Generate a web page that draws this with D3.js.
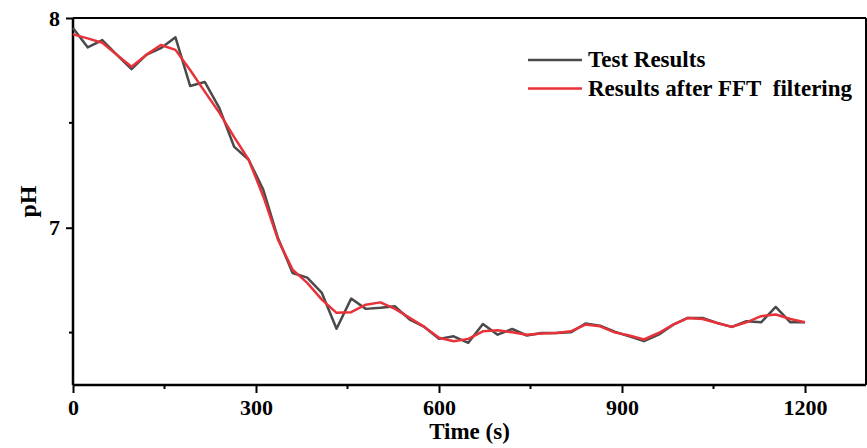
<!DOCTYPE html>
<html><head><meta charset="utf-8">
<script src="https://cdn.jsdelivr.net/npm/d3@7"></script>
<style>body{margin:0;background:#fff;} svg{display:block;}</style>
</head><body>
<svg id="c" width="867" height="448"></svg>
<script>
const times = d3.range(0, 1201, 24);
const testResults = [7.952,7.860,7.895,7.824,7.756,7.824,7.856,7.908,7.676,7.695,
  7.570,7.387,7.324,7.181,6.951,6.784,6.762,6.689,6.518,6.662,
  6.613,6.618,6.625,6.562,6.527,6.470,6.482,6.451,6.541,6.490,
  6.517,6.486,6.498,6.498,6.501,6.543,6.533,6.504,6.482,6.459,
  6.490,6.538,6.570,6.570,6.546,6.527,6.554,6.549,6.622,6.549,6.549];
const fftFiltered = [7.922,7.903,7.882,7.824,7.768,7.824,7.871,7.848,7.752,7.649,
  7.548,7.433,7.324,7.149,6.943,6.800,6.737,6.657,6.594,6.597,
  6.633,6.644,6.613,6.570,6.527,6.475,6.459,6.470,6.506,6.511,
  6.501,6.490,6.495,6.498,6.506,6.538,6.530,6.501,6.486,6.467,
  6.498,6.538,6.570,6.565,6.546,6.527,6.549,6.578,6.586,6.565,6.549];
const xTicks = [0,300,600,900,1200];
const xMinor = [150,450,750,1050];
const yTicks = [7,8];
const yMinor = [6.5,7.5];
const seriesNames = ["Test Results","Results after FFT\u00a0 filtering"];
const colors = ["#4a4a4a","#e8323a"];

const svg = d3.select("#c");
const L=73, R=866, T=18, B=385;
const x = d3.scaleLinear().domain([0,1300]).range([L,R]);
const y = d3.scaleLinear().domain([6.25,8]).range([B,T]);
const font = "'Liberation Serif','Times New Roman',serif";

// frame top/right
svg.append("line").attr("x1",L).attr("x2",R).attr("y1",T).attr("y2",T).attr("stroke","#000").attr("stroke-width",2);
svg.append("line").attr("x1",R).attr("x2",R).attr("y1",T).attr("y2",B).attr("stroke","#000").attr("stroke-width",2);

// x axis
const gx = svg.append("g").attr("transform",`translate(0,${B})`)
  .call(d3.axisBottom(x).tickValues(xTicks).tickSize(8).tickPadding(6).tickFormat(d3.format("d")));
gx.append("g").selectAll("line").data(xMinor).join("line")
  .attr("x1",d=>x(d)).attr("x2",d=>x(d)).attr("y1",0).attr("y2",4).attr("stroke","#000").attr("stroke-width",2);
// y axis
const gy = svg.append("g").attr("transform",`translate(${L},0)`)
  .call(d3.axisLeft(y).tickValues(yTicks).tickSize(7).tickPadding(6).tickFormat(d3.format("d")));
gy.append("g").selectAll("line").data(yMinor).join("line")
  .attr("y1",d=>y(d)).attr("y2",d=>y(d)).attr("x1",0).attr("x2",-4).attr("stroke","#000").attr("stroke-width",2);

[gx,gy].forEach(g=>{
  g.select(".domain").attr("stroke","#000").attr("stroke-width",2.5);
  g.selectAll(".tick line").attr("stroke","#000").attr("stroke-width",2);
  g.selectAll("text").attr("font-family",font).attr("font-weight","bold").attr("font-size",22).attr("fill","#000");
});
gx.select(".domain").attr("d",`M${L},0H${R}`);
gy.select(".domain").attr("d",`M0,${B}V${T}`);

// lines
const line = d3.line().x((d,i)=>x(times[i])).y(d=>y(d));
[testResults, fftFiltered].forEach((s,k)=>{
  svg.append("path").datum(s).attr("d",line).attr("fill","none")
    .attr("stroke",colors[k]).attr("stroke-width",2.5).attr("stroke-linejoin","round");
});

// axis titles
svg.append("text").attr("x",(L+R)/2).attr("y",439).attr("text-anchor","middle")
  .attr("font-family",font).attr("font-weight","bold").attr("font-size",23).text("Time (s)");
svg.append("text").attr("transform",`translate(36,${(T+B)/2}) rotate(-90)`).attr("text-anchor","middle")
  .attr("font-family",font).attr("font-weight","bold").attr("font-size",24).text("pH");

// legend
const lg = svg.append("g");
seriesNames.forEach((n,k)=>{
  const yy = 60 + k*28.5;
  lg.append("line").attr("x1",528).attr("x2",582).attr("y1",yy).attr("y2",yy).attr("stroke",colors[k]).attr("stroke-width",2.5);
  lg.append("text").attr("x",588).attr("y",yy+7).attr("font-family",font).attr("font-weight","bold")
    .attr("font-size",23).attr("fill","#000").text(n);
});
</script>
</body></html>
